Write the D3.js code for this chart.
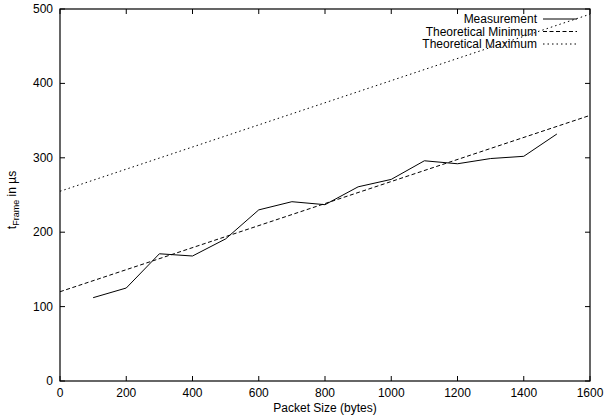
<!DOCTYPE html>
<html>
<head>
<meta charset="utf-8">
<script src="https://cdn.jsdelivr.net/npm/d3@7"></script>
<style>
  body { margin: 0; background: #fff; }
  text { font-family: "Liberation Sans", Arial, sans-serif; font-size: 12px; fill: #000; }
</style>
</head>
<body>
<div id="chart"></div>
<script>
// measured frame time per packet size
var packetSizes = [100, 200, 300, 400, 500, 600, 700, 800, 900, 1000, 1100, 1200, 1300, 1400, 1500]
var measurement = [112, 125, 171, 168, 191, 230, 241, 237, 261, 271, 296, 292, 299, 302, 332]

// theoretical lines (endpoints)
var theoMinX = [0, 1600]
var theoMin = [120, 357]
var theoMaxX = [0, 1600]
var theoMax = [255, 493]

var xTicks = [0, 200, 400, 600, 800, 1000, 1200, 1400, 1600]
var yTicks = [0, 100, 200, 300, 400, 500]

var width = 605, height = 419
var margin = {left: 60, right: 15, top: 9, bottom: 38}

var svg = d3.select("#chart").append("svg")
	.attr("width", width)
	.attr("height", height)

var x = d3.scaleLinear().domain([0, 1600]).range([margin.left, width - margin.right])
var y = d3.scaleLinear().domain([0, 500]).range([height - margin.bottom, margin.top])

var x0 = x.range()[0], x1 = x.range()[1]
var y0 = y.range()[0], y1 = y.range()[1]

var plot = svg.append("g")

// ticks, inward on all four sides
xTicks.forEach(function(t) {
	plot.append("line").attr("x1", x(t)).attr("x2", x(t)).attr("y1", y0).attr("y2", y0 - 5)
		.attr("stroke", "#000")
	plot.append("line").attr("x1", x(t)).attr("x2", x(t)).attr("y1", y1).attr("y2", y1 + 5)
		.attr("stroke", "#000")
	svg.append("text").attr("x", x(t)).attr("y", y0 + 16).attr("text-anchor", "middle").text(t)
})
yTicks.forEach(function(t) {
	plot.append("line").attr("x1", x0).attr("x2", x0 + 5).attr("y1", y(t)).attr("y2", y(t))
		.attr("stroke", "#000")
	plot.append("line").attr("x1", x1).attr("x2", x1 - 5).attr("y1", y(t)).attr("y2", y(t))
		.attr("stroke", "#000")
	svg.append("text").attr("x", x0 - 7).attr("y", y(t) + 4).attr("text-anchor", "end").text(t)
})

var clip = svg.append("clipPath").attr("id", "clip")
	.append("rect").attr("x", x0).attr("y", y1).attr("width", x1 - x0).attr("height", y0 - y1)

var line = d3.line().x(d => x(d[0])).y(d => y(d[1]))

var series = svg.append("g").attr("clip-path", "url(#clip)")

series.append("path")
	.datum(d3.zip(theoMaxX, theoMax))
	.attr("d", line)
	.attr("fill", "none")
	.attr("stroke", "#000")
	.attr("stroke-width", 1)
	.attr("stroke-dasharray", "1.5,3")

series.append("path")
	.datum(d3.zip(theoMinX, theoMin))
	.attr("d", line)
	.attr("fill", "none")
	.attr("stroke", "#000")
	.attr("stroke-width", 1)
	.attr("stroke-dasharray", "4,2.5")

series.append("path")
	.datum(d3.zip(packetSizes, measurement))
	.attr("d", line)
	.attr("fill", "none")
	.attr("stroke", "#000")
	.attr("stroke-width", 1)

// frame
svg.append("rect")
	.attr("x", x0).attr("y", y1)
	.attr("width", x1 - x0).attr("height", y0 - y1)
	.attr("fill", "none").attr("stroke", "#000").attr("stroke-width", 1.2)

// legend
var legendNames = ["Measurement", "Theoretical Minimum", "Theoretical Maximum"]
var legendDash = [null, "4,2.5", "1.5,3"]
legendNames.forEach(function(name, i) {
	var ly = 19 + i * 12.5
	svg.append("text").attr("x", 537).attr("y", ly + 4).attr("text-anchor", "end")
		.attr("font-size", "11.5px").text(name)
	svg.append("line").attr("x1", 543).attr("x2", 577).attr("y1", ly).attr("y2", ly)
		.attr("stroke", "#000").attr("stroke-dasharray", legendDash[i])
})

// axis labels
svg.append("text").attr("x", (x0 + x1) / 2).attr("y", 412).attr("text-anchor", "middle")
	.text("Packet Size (bytes)")

var yl = svg.append("text")
	.attr("transform", "translate(16," + 200 + ") rotate(-90)")
	.attr("text-anchor", "middle")
yl.append("tspan").text("t")
yl.append("tspan").attr("dy", 3).attr("font-size", "9px").text("Frame")
yl.append("tspan").attr("dy", -3).text(" in µs")
</script>
</body>
</html>
